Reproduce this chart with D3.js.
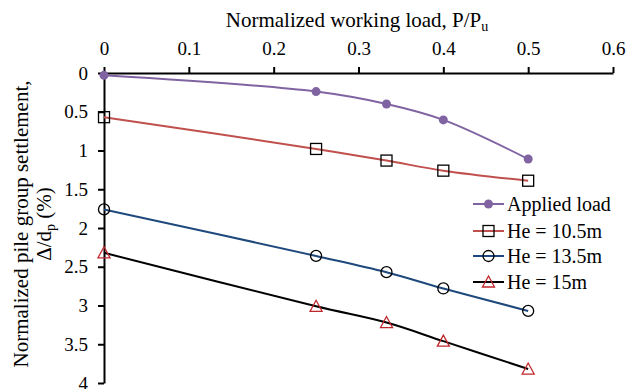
<!DOCTYPE html>
<html>
<head>
<meta charset="utf-8">
<script src="https://cdn.jsdelivr.net/npm/d3@7"></script>
<style>
  body { margin: 0; background: #fff; }
  .axis path, .axis line { stroke: #000; stroke-width: 2; }
</style>
</head>
<body>
<script>
// data
const loads = [0, 0.25, 0.333, 0.4, 0.5];
const applied = [0.03, 0.24, 0.40, 0.605, 1.11];
const he105 = [0.57, 0.98, 1.13, 1.26, 1.39];
const he135 = [1.76, 2.36, 2.57, 2.78, 3.07];
const he15 = [2.32, 3.01, 3.22, 3.46, 3.82];
const seriesNames = ["Applied load", "He = 10.5m", "He = 13.5m", "He = 15m"];
const xTicks = [0, 0.1, 0.2, 0.3, 0.4, 0.5, 0.6];
const yTicks = [0, 0.5, 1, 1.5, 2, 2.5, 3, 3.5, 4];

const w = 628, h = 389;
const mLeft = 104, mRight = 613, mTop = 73, mBottom = 383;
const serif = "'Liberation Serif', 'Times New Roman', serif";

const series = [
  {name: seriesNames[0], vals: applied, color: "#8064a2", marker: "dot"},
  {name: seriesNames[1], vals: he105, color: "#c0504d", marker: "square"},
  {name: seriesNames[2], vals: he135, color: "#1f497d", marker: "circle"},
  {name: seriesNames[3], vals: he15, color: "#000000", marker: "triangle"}
];

const xScale = d3.scaleLinear().domain([0, 0.6]).range([mLeft, mRight]);
const yScale = d3.scaleLinear().domain([0, 4]).range([mTop, mBottom]);

const svg = d3.select("body").append("svg")
  .attr("width", w).attr("height", h)
  .attr("font-family", serif);

// axes
svg.append("g")
  .attr("class", "axis")
  .attr("transform", "translate(0," + mTop + ")")
  .call(d3.axisTop(xScale).tickValues(xTicks).tickFormat(d => d).tickSize(6).tickSizeOuter(0).tickPadding(12))
  .attr("font-family", serif).attr("font-size", 19);

svg.append("g")
  .attr("class", "axis")
  .attr("transform", "translate(" + mLeft + ",0)")
  .call(d3.axisLeft(yScale).tickValues(yTicks).tickFormat(d => d).tickSize(6).tickSizeOuter(0).tickPadding(10))
  .attr("font-family", serif).attr("font-size", 19);

// titles
const xt = svg.append("text")
  .attr("x", 357).attr("y", 27)
  .attr("text-anchor", "middle")
  .attr("font-size", 21);
xt.append("tspan").text("Normalized working load, P/P");
xt.append("tspan").attr("dy", 4).attr("font-size", 14).text("u");

const yt = svg.append("g").attr("transform", "translate(28,224) rotate(-90)");
yt.append("text").attr("text-anchor", "middle").attr("font-size", 21)
  .text("Normalized pile group settlement,");
const yt2 = yt.append("text").attr("text-anchor", "middle").attr("y", 23).attr("font-size", 21);
yt2.append("tspan").text("Δ/d");
yt2.append("tspan").attr("dy", 4).attr("font-size", 14).text("p");
yt2.append("tspan").attr("dy", -4).text(" (%)");

// lines
const line = d3.line()
  .curve(d3.curveCatmullRom.alpha(0.5))
  .x((d, i) => xScale(loads[i]))
  .y(d => yScale(d));

function marker(g, type, x, y) {
  if (type === "dot") {
    g.append("circle").attr("cx", x).attr("cy", y).attr("r", 4.5).attr("fill", "#8064a2");
  } else if (type === "square") {
    g.append("rect").attr("x", x - 5.5).attr("y", y - 5.5).attr("width", 11).attr("height", 11)
      .attr("fill", "none").attr("stroke", "#000").attr("stroke-width", 1.3);
  } else if (type === "circle") {
    g.append("circle").attr("cx", x).attr("cy", y).attr("r", 5.5)
      .attr("fill", "none").attr("stroke", "#000").attr("stroke-width", 1.3);
  } else {
    g.append("path").attr("d", `M${x},${y - 6}L${x + 6},${y + 5}L${x - 6},${y + 5}Z`)
      .attr("fill", "none").attr("stroke", "#c0272d").attr("stroke-width", 1.3);
  }
}

series.forEach(s => {
  svg.append("path")
    .attr("d", line(s.vals))
    .attr("fill", "none")
    .attr("stroke", s.color)
    .attr("stroke-width", 2);
  const g = svg.append("g");
  s.vals.forEach((v, i) => marker(g, s.marker, xScale(loads[i]), yScale(v)));
});

// legend
const legY = [204, 231, 256, 282];
series.forEach((s, i) => {
  const g = svg.append("g");
  g.append("line").attr("x1", 473).attr("x2", 504)
    .attr("y1", legY[i]).attr("y2", legY[i])
    .attr("stroke", s.color).attr("stroke-width", 2);
  marker(g, s.marker, 488.5, legY[i]);
  g.append("text").attr("x", 507).attr("y", legY[i] + 7)
    .attr("font-size", 20).text(s.name);
});
</script>
</body>
</html>
